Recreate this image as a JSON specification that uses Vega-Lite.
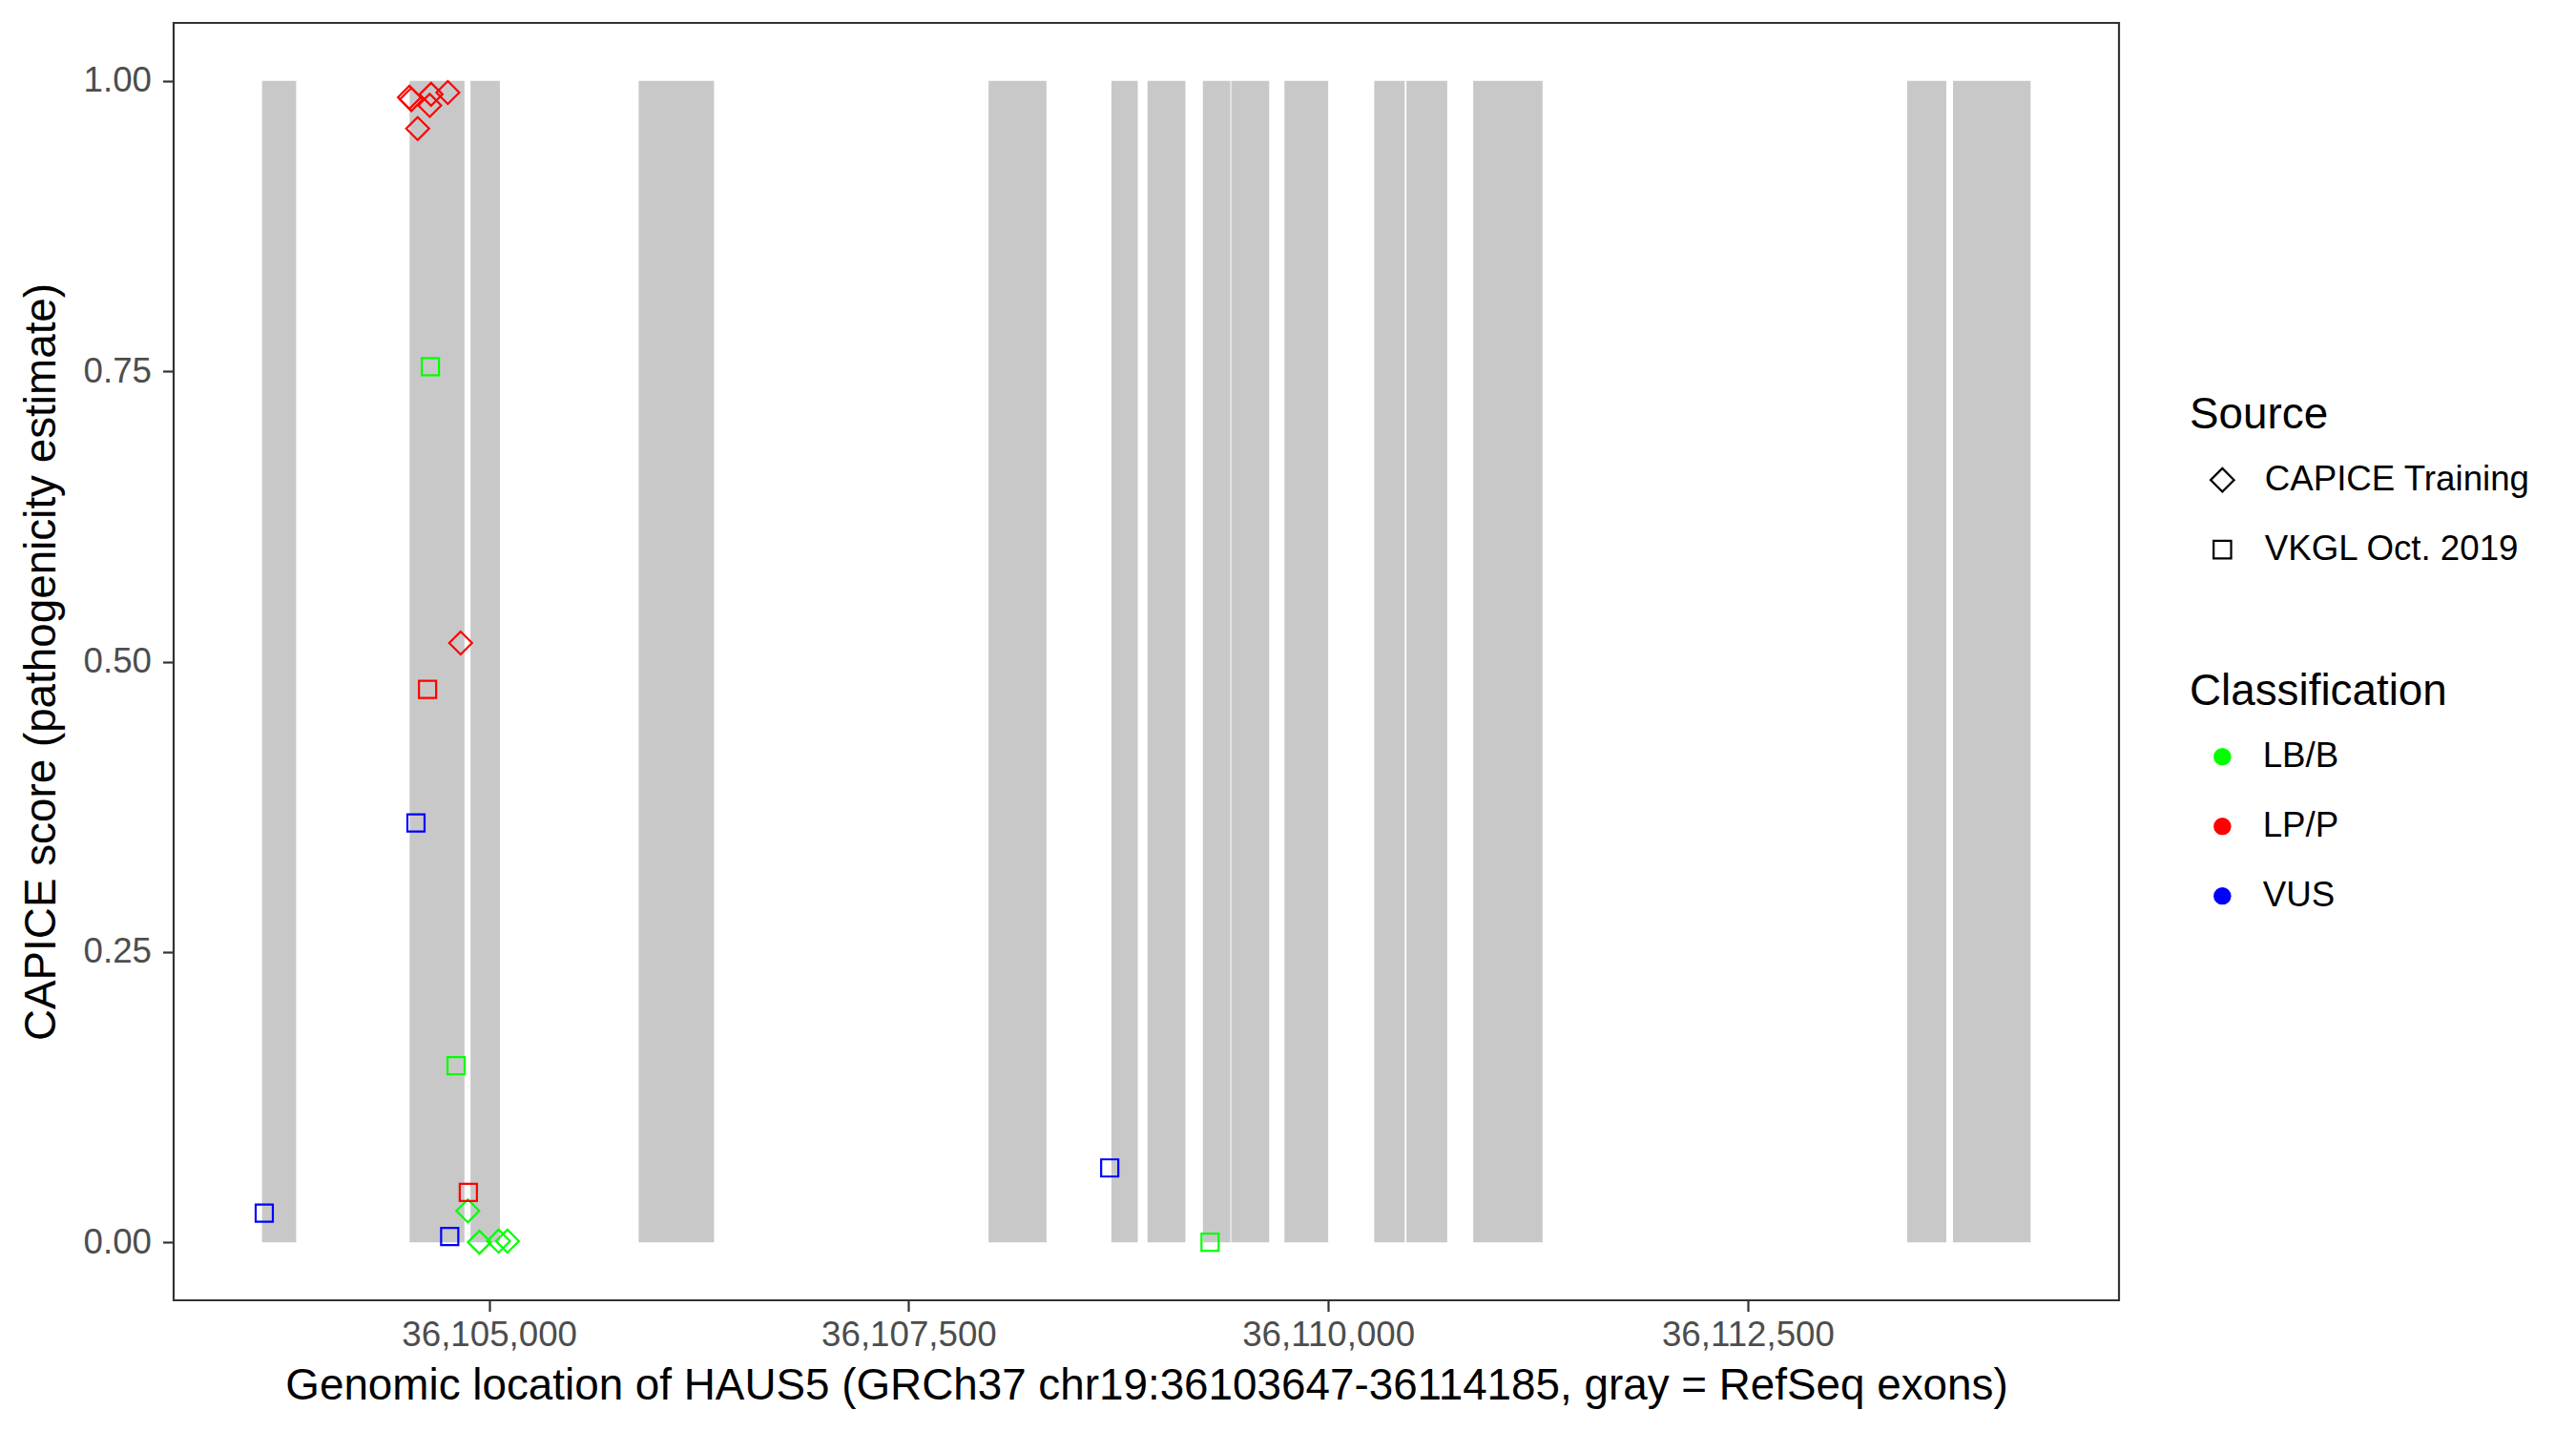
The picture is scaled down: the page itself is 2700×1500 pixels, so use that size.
{
  "$schema": "https://vega.github.io/schema/vega-lite/v6.json",
  "autosize": "none",
  "width": 2039,
  "height": 1339,
  "padding": {"left": 182, "top": 24, "right": 479, "bottom": 137},
  "background": "white",
  "config": {
    "font": "Liberation Sans",
    "view": {"stroke": "#333333", "strokeWidth": 2.2},
    "axis": {
      "labelFont": "Liberation Sans",
      "labelFontSize": 36.7,
      "labelColor": "#4D4D4D",
      "labelLimit": 0,
      "labelOverlap": false,
      "titleFont": "Liberation Sans",
      "titleFontSize": 45.8,
      "titleFontWeight": "normal",
      "titleColor": "black",
      "titleLimit": 0,
      "tickColor": "#333333",
      "tickWidth": 2.2,
      "tickSize": 11.5,
      "domain": false,
      "grid": false
    },
    "legend": {
      "titleFont": "Liberation Sans",
      "titleFontSize": 45.8,
      "titleFontWeight": "normal",
      "titleColor": "black",
      "titleLimit": 0,
      "labelFont": "Liberation Sans",
      "labelFontSize": 36.7,
      "labelColor": "black",
      "labelLimit": 0,
      "padding": 0
    }
  },
  "datasets": {
    "exons": [
      {"start": 36103647, "end": 36103850},
      {"start": 36104526, "end": 36104853},
      {"start": 36104889, "end": 36105064},
      {"start": 36105891, "end": 36106340},
      {"start": 36107976, "end": 36108321},
      {"start": 36108708, "end": 36108865},
      {"start": 36108923, "end": 36109149},
      {"start": 36109253, "end": 36109417},
      {"start": 36109422, "end": 36109648},
      {"start": 36109739, "end": 36110000},
      {"start": 36110274, "end": 36110456},
      {"start": 36110466, "end": 36110709},
      {"start": 36110864, "end": 36111277},
      {"start": 36113450, "end": 36113683},
      {"start": 36113723, "end": 36114185}
    ],
    "variants": [
      {"pos": 36104525, "score": 0.986, "source": "CAPICE Training", "classification": "LP/P"},
      {"pos": 36104536, "score": 0.984, "source": "CAPICE Training", "classification": "LP/P"},
      {"pos": 36104654, "score": 0.9885, "source": "CAPICE Training", "classification": "LP/P"},
      {"pos": 36104646, "score": 0.979, "source": "CAPICE Training", "classification": "LP/P"},
      {"pos": 36104754, "score": 0.99, "source": "CAPICE Training", "classification": "LP/P"},
      {"pos": 36104574, "score": 0.959, "source": "CAPICE Training", "classification": "LP/P"},
      {"pos": 36104830, "score": 0.516, "source": "CAPICE Training", "classification": "LP/P"},
      {"pos": 36104873, "score": 0.027, "source": "CAPICE Training", "classification": "LB/B"},
      {"pos": 36104942, "score": 0.0, "source": "CAPICE Training", "classification": "LB/B"},
      {"pos": 36105056, "score": 0.001, "source": "CAPICE Training", "classification": "LB/B"},
      {"pos": 36105109, "score": 0.001, "source": "CAPICE Training", "classification": "LB/B"},
      {"pos": 36103660, "score": 0.025, "source": "VKGL Oct. 2019", "classification": "VUS"},
      {"pos": 36104876, "score": 0.043, "source": "VKGL Oct. 2019", "classification": "LP/P"},
      {"pos": 36104765, "score": 0.005, "source": "VKGL Oct. 2019", "classification": "VUS"},
      {"pos": 36104650, "score": 0.754, "source": "VKGL Oct. 2019", "classification": "LB/B"},
      {"pos": 36104633, "score": 0.476, "source": "VKGL Oct. 2019", "classification": "LP/P"},
      {"pos": 36104564, "score": 0.361, "source": "VKGL Oct. 2019", "classification": "VUS"},
      {"pos": 36104803, "score": 0.152, "source": "VKGL Oct. 2019", "classification": "LB/B"},
      {"pos": 36108698, "score": 0.064, "source": "VKGL Oct. 2019", "classification": "VUS"},
      {"pos": 36109296, "score": 0.0, "source": "VKGL Oct. 2019", "classification": "LB/B"}
    ]
  },
  "layer": [
    {
      "data": {"name": "exons"},
      "mark": {"type": "rect", "color": "#C8C8C8"},
      "encoding": {
        "x": {
          "field": "start", "type": "quantitative",
          "scale": {"domain": [36103120, 36114712], "nice": false, "zero": false},
          "axis": {
            "title": "Genomic location of HAUS5 (GRCh37 chr19:36103647-36114185, gray = RefSeq exons)",
            "values": [36105000, 36107500, 36110000, 36112500],
            "format": ",d",
            "labelPadding": 7,
            "titlePadding": 12
          }
        },
        "x2": {"field": "end"},
        "y": {
          "datum": 0, "type": "quantitative",
          "scale": {"domain": [-0.05, 1.05], "nice": false, "zero": false},
          "axis": {
            "title": "CAPICE score (pathogenicity estimate)",
            "values": [0, 0.25, 0.5, 0.75, 1],
            "format": ".2f",
            "labelPadding": 12,
            "titlePadding": 20
          }
        },
        "y2": {"datum": 1}
      }
    },
    {
      "data": {"name": "variants"},
      "mark": {"type": "point", "filled": true, "opacity": 0, "size": 0},
      "encoding": {
        "x": {"field": "pos", "type": "quantitative"},
        "y": {"field": "score", "type": "quantitative"},
        "color": {
          "field": "classification", "type": "nominal",
          "scale": {
            "domain": ["LB/B", "LP/P", "VUS"],
            "range": ["#00FF00", "#FF0000", "#0000FF"]
          },
          "legend": {
            "title": "Classification",
            "orient": "none",
            "legendX": 2113,
            "legendY": 679,
            "titlePadding": 26,
            "rowPadding": 35,
            "symbolType": "circle",
            "symbolSize": 340,
            "symbolOpacity": 1,
            "symbolStrokeWidth": 0,
            "symbolOffset": 16,
            "labelOffset": 24
          }
        }
      }
    },
    {
      "data": {"name": "variants"},
      "mark": {"type": "point", "filled": false, "strokeWidth": 2.2, "opacity": 1, "size": 576},
      "encoding": {
        "x": {"field": "pos", "type": "quantitative"},
        "y": {"field": "score", "type": "quantitative"},
        "shape": {
          "field": "source", "type": "nominal",
          "scale": {
            "domain": ["CAPICE Training", "VKGL Oct. 2019"],
            "range": ["M-1,0L0,-1L1,0L0,1Z", "M-0.75,-0.75L0.75,-0.75L0.75,0.75L-0.75,0.75Z"]
          },
          "legend": {
            "title": "Source",
            "orient": "none",
            "legendX": 2113,
            "legendY": 389,
            "titlePadding": 26,
            "rowPadding": 35,
            "symbolSize": 600,
            "symbolStrokeColor": "black",
            "symbolFillColor": "transparent",
            "symbolStrokeWidth": 2.2,
            "symbolOffset": 16,
            "labelOffset": 26
          }
        },
        "color": {
          "field": "classification", "type": "nominal",
          "legend": null
        }
      }
    }
  ]
}
